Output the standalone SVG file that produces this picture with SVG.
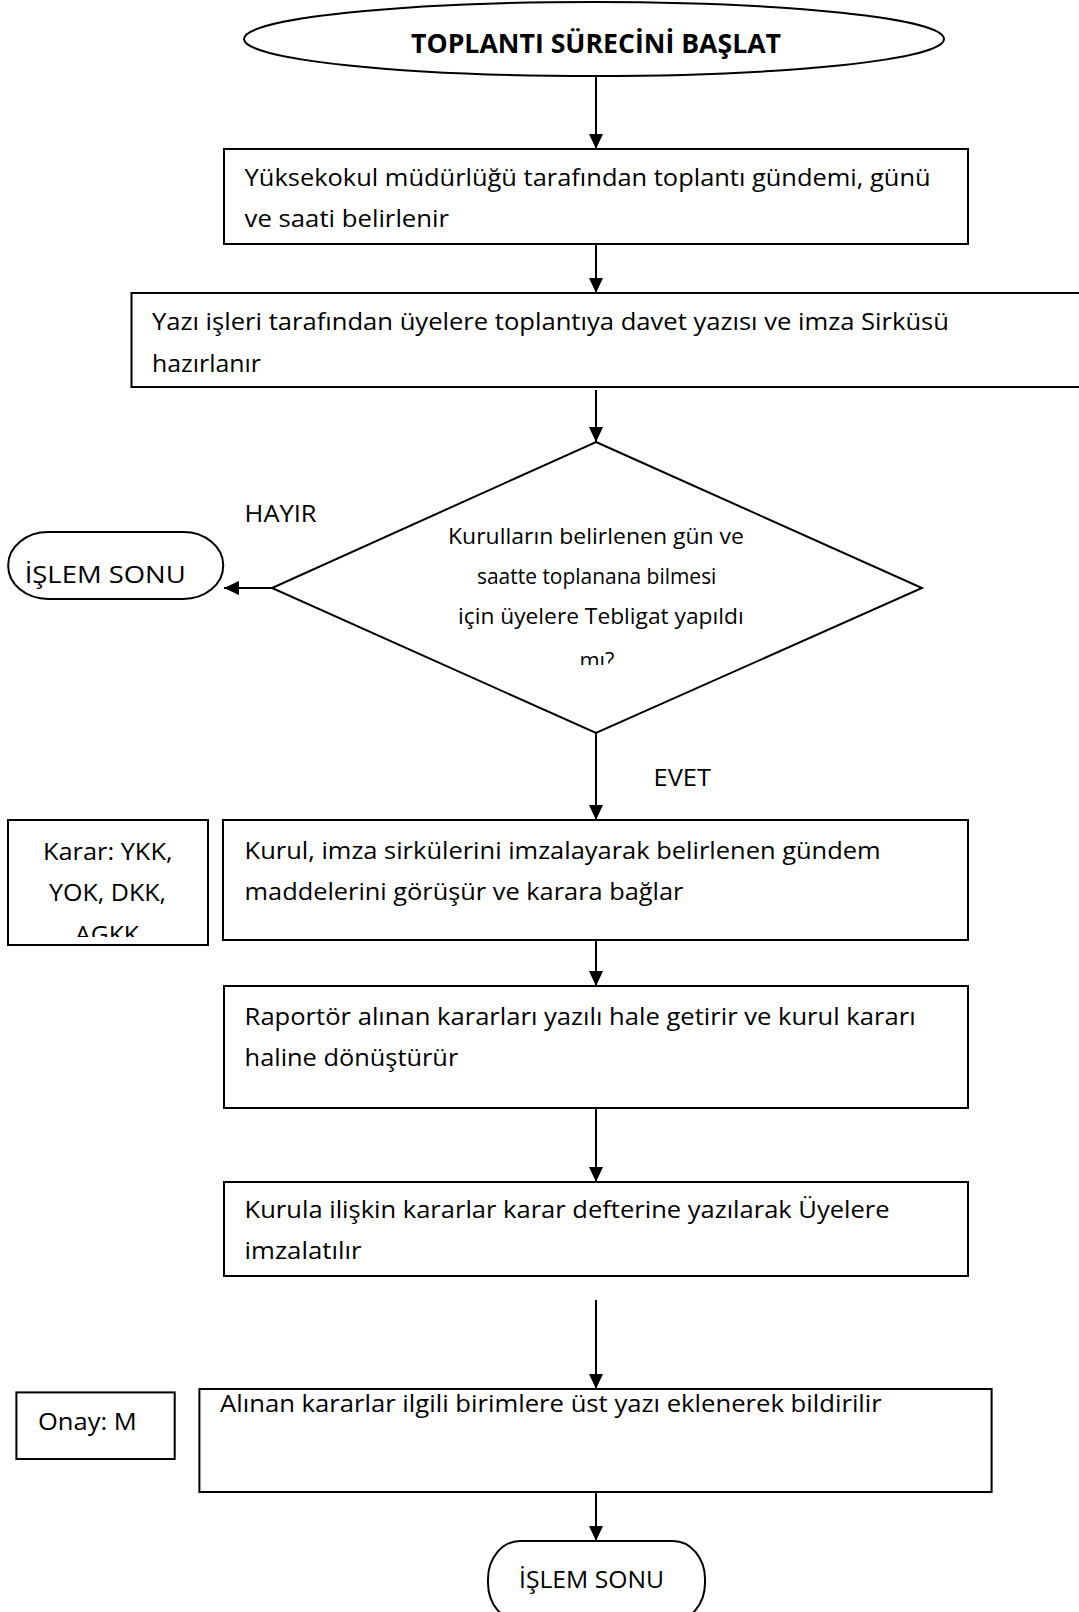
<svg xmlns="http://www.w3.org/2000/svg" width="1079" height="1612" viewBox="0 0 1079 1612">
<style>
.shape{fill:#fff;stroke:#000;stroke-width:2}
.t{font-family:"Open Sans","Noto Sans","Liberation Sans",sans-serif;font-size:24px;fill:#000}
.d{font-family:"Open Sans","Noto Sans","Liberation Sans",sans-serif;font-size:21px;fill:#000}
.b{font-family:"Open Sans","Noto Sans","Liberation Sans",sans-serif;font-size:26px;font-weight:bold;fill:#000}
.c{stroke:#000;stroke-width:2;fill:none;marker-end:url(#ah)}
</style>
<defs>
<marker id="ah" markerUnits="userSpaceOnUse" markerWidth="16" markerHeight="14" refX="15" refY="7" orient="auto">
<path d="M0,0 L15,7 L0,14 Z" fill="#000"/>
</marker>
<clipPath id="clipD"><rect x="500" y="600" width="200" height="65"/></clipPath>
<clipPath id="clipK"><rect x="10" y="822" width="196" height="115"/></clipPath>
</defs>
<rect width="1079" height="1612" fill="#fff"/>

<g id="connectors">
<line class="c" x1="596" y1="77" x2="596" y2="149"/>
<line class="c" x1="596" y1="244" x2="596" y2="293"/>
<line class="c" x1="596" y1="390" x2="596" y2="442"/>
<line class="c" x1="272" y1="588" x2="224" y2="588"/>
<line class="c" x1="596" y1="733" x2="596" y2="820"/>
<line class="c" x1="596" y1="940" x2="596" y2="986"/>
<line class="c" x1="596" y1="1108" x2="596" y2="1182"/>
<line class="c" x1="596" y1="1300" x2="596" y2="1389"/>
<line class="c" x1="596" y1="1492" x2="596" y2="1541"/>
<text class="t" x="244.6" y="522" textLength="72" lengthAdjust="spacingAndGlyphs">HAYIR</text>
<text class="t" x="653.5" y="786" textLength="57.5" lengthAdjust="spacingAndGlyphs">EVET</text>
</g>

<g id="start">
<ellipse class="shape" cx="594" cy="39" rx="350" ry="37"/>
<text class="b" x="411" y="53" textLength="370" lengthAdjust="spacingAndGlyphs">TOPLANTI SÜRECİNİ BAŞLAT</text>
</g>

<g id="box1">
<rect class="shape" x="224" y="149" width="744" height="95"/>
<text class="t" x="244.6" y="186" textLength="686" lengthAdjust="spacingAndGlyphs">Yüksekokul müdürlüğü tarafından toplantı gündemi, günü</text>
<text class="t" x="244.6" y="227" textLength="204.5" lengthAdjust="spacingAndGlyphs">ve saati belirlenir</text>
</g>

<g id="box2">
<rect class="shape" x="131.5" y="293" width="960" height="94"/>
<text class="t" x="152" y="330" textLength="797" lengthAdjust="spacingAndGlyphs">Yazı işleri tarafından üyelere toplantıya davet yazısı ve imza Sirküsü</text>
<text class="t" x="152" y="372" textLength="109" lengthAdjust="spacingAndGlyphs">hazırlanır</text>
</g>

<g id="decision">
<polygon class="shape" points="596,442 922,588 596,733 272,588"/>
<text class="d" x="448" y="544" textLength="296" lengthAdjust="spacingAndGlyphs">Kurulların belirlenen gün ve</text>
<text class="d" x="477" y="584" textLength="239.4" lengthAdjust="spacingAndGlyphs">saatte toplanana bilmesi</text>
<text class="d" x="458" y="624" textLength="285.7" lengthAdjust="spacingAndGlyphs">için üyelere Tebligat yapıldı</text>
<text class="d" x="579.5" y="668" textLength="35" lengthAdjust="spacingAndGlyphs" clip-path="url(#clipD)">mı?</text>
</g>

<g id="end1">
<rect class="shape" x="8.2" y="532" width="215" height="67" rx="40" ry="33"/>
<text class="t" x="24.7" y="582.6" textLength="161" lengthAdjust="spacingAndGlyphs">İŞLEM SONU</text>
</g>

<g id="karar">
<rect class="shape" x="8" y="820" width="200" height="125"/>
<text class="t" x="43" y="860" textLength="129.5" lengthAdjust="spacingAndGlyphs">Karar: YKK,</text>
<text class="t" x="49" y="901" textLength="117" lengthAdjust="spacingAndGlyphs">YOK, DKK,</text>
<text class="t" x="75" y="943" textLength="64" lengthAdjust="spacingAndGlyphs" clip-path="url(#clipK)">AGKK</text>
</g>

<g id="box3">
<rect class="shape" x="223" y="820" width="745" height="120"/>
<text class="t" x="244.6" y="859" textLength="636" lengthAdjust="spacingAndGlyphs">Kurul, imza sirkülerini imzalayarak belirlenen gündem</text>
<text class="t" x="244.6" y="900" textLength="438.8" lengthAdjust="spacingAndGlyphs">maddelerini görüşür ve karara bağlar</text>
</g>

<g id="box4">
<rect class="shape" x="224" y="986" width="744" height="122"/>
<text class="t" x="244.6" y="1024.5" textLength="671" lengthAdjust="spacingAndGlyphs">Raportör alınan kararları yazılı hale getirir ve kurul kararı</text>
<text class="t" x="244.6" y="1065.6" textLength="213.7" lengthAdjust="spacingAndGlyphs">haline dönüştürür</text>
</g>

<g id="box5">
<rect class="shape" x="224" y="1182" width="744" height="94"/>
<text class="t" x="244.6" y="1217.7" textLength="645" lengthAdjust="spacingAndGlyphs">Kurula ilişkin kararlar karar defterine yazılarak Üyelere</text>
<text class="t" x="244.6" y="1258.8" textLength="117" lengthAdjust="spacingAndGlyphs">imzalatılır</text>
</g>

<g id="onay">
<rect class="shape" x="16.4" y="1392.4" width="158.3" height="66.6"/>
<text class="t" x="38" y="1430" textLength="98.7" lengthAdjust="spacingAndGlyphs">Onay: M</text>
</g>

<g id="box6">
<rect class="shape" x="199.4" y="1389" width="792.2" height="103"/>
<text class="t" x="220" y="1412" textLength="661.8" lengthAdjust="spacingAndGlyphs">Alınan kararlar ilgili birimlere üst yazı eklenerek bildirilir</text>
</g>

<g id="end2">
<rect class="shape" x="488" y="1541" width="217" height="80" rx="32" ry="38"/>
<text class="t" x="519" y="1588" textLength="145" lengthAdjust="spacingAndGlyphs">İŞLEM SONU</text>
</g>
</svg>
